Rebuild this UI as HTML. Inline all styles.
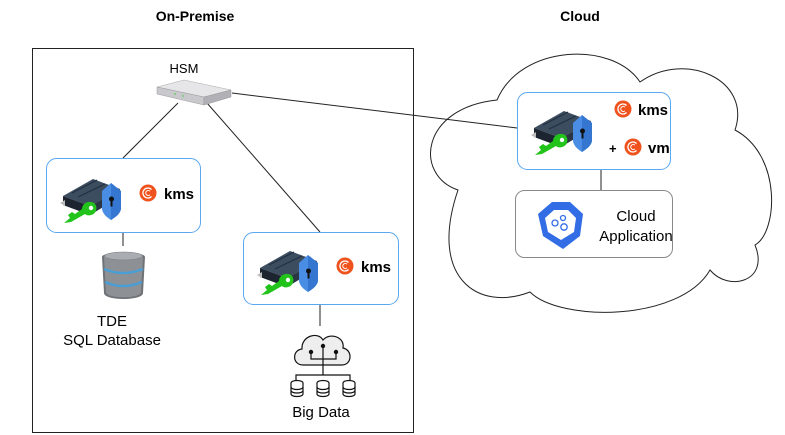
<!DOCTYPE html>
<html><head><style>
body{margin:0;background:#fff;}
svg{display:block;font-family:"Liberation Sans",Arial,sans-serif;}
</style></head><body>
<svg width="785" height="435" viewBox="0 0 785 435" xmlns="http://www.w3.org/2000/svg">
<defs>
<g id="ico">
  <polygon points="0,19 30,2 57,12 27,29" fill="#3d4d60"/>
  <line x1="9" y1="16" x2="34" y2="3" stroke="#22303f" stroke-width="1.2"/>
  <line x1="15" y1="20" x2="42" y2="7" stroke="#22303f" stroke-width="1.2"/>
  <polygon points="0,19 27,29 27,38 0,28" fill="#1c2430"/>
  <polygon points="27,29 57,12 57,20 27,38" fill="#2a3644"/>
  <polygon points="-3,26 2,23 2,29" fill="#bbb"/>
  <path d="M1,46 L7,41 L5,38 L9,35 L12,37 L19,32 C19,26 26,23 31,26 C35,29 34,37 28,38 C25,39 23,38 22,37 L8,45 Z" fill="#22c31a"/>
  <circle cx="28" cy="31" r="2.2" fill="#fff"/>
  <path d="M39,14 L48,6 L58,14 L58,31 C58,37 51,41 48,43 C45,41 39,37 39,31 Z" fill="#4a8de4"/>
  <path d="M48,6 L58,14 L58,31 C58,37 51,41 48,43 Z" fill="#3577d0"/>
  <circle cx="48.5" cy="22" r="2.5" fill="#111"/>
  <rect x="47.5" y="22" width="2" height="7.5" fill="#111"/>
</g>
<g id="logo">
  <circle cx="0" cy="0" r="8.5" fill="#f0521e"/>
  <path d="M3.5,-3.5 A5,5 0 1 0 3.5,3.5" fill="none" stroke="#fff" stroke-width="1.3"/>
  <path d="M2,-1.8 A2.5,2.5 0 1 0 2,1.8" fill="none" stroke="#fff" stroke-width="1"/>
</g>
<g id="cyl">
  <ellipse cx="0" cy="0" rx="6" ry="2.5" fill="#fff" stroke="#111" stroke-width="1.2"/>
  <path d="M-6,0 V11 A6,2.5 0 0 0 6,11 V0" fill="#fff" stroke="#111" stroke-width="1.2"/>
  <path d="M-6,4 A6,2.5 0 0 0 6,4 M-6,7.5 A6,2.5 0 0 0 6,7.5" fill="none" stroke="#111" stroke-width="1.2"/>
</g>
</defs>

<text x="195" y="21" font-size="14" font-weight="bold" text-anchor="middle">On-Premise</text>
<text x="580" y="21" font-size="14" font-weight="bold" text-anchor="middle">Cloud</text>

<rect x="32.5" y="48.5" width="381" height="384" fill="none" stroke="#222" stroke-width="1"/>

<!-- cloud shape -->
<path d="M497,100 C520,45 612,40 640,82 C685,50 752,80 735,130 C782,155 778,232 755,245 C770,282 728,292 710,270 C680,322 560,322 530,292 C478,312 428,278 458,190 C414,175 420,108 497,100 Z" fill="#fff" stroke="#222" stroke-width="1"/>

<!-- connectors -->
<line x1="178" y1="103" x2="123" y2="158" stroke="#222"/>
<line x1="207" y1="103" x2="320" y2="232" stroke="#222"/>
<line x1="232" y1="93" x2="517" y2="128" stroke="#222"/>
<line x1="123" y1="232" x2="123" y2="246" stroke="#222"/>
<line x1="320" y1="304" x2="320" y2="326" stroke="#222"/>
<line x1="601" y1="169" x2="601" y2="190" stroke="#222"/>

<!-- HSM -->
<text x="184" y="73" font-size="13" text-anchor="middle">HSM</text>
<polygon points="157,87 184,80 231,90 204,97" fill="#e6e6e8" stroke="#aaa" stroke-width="0.5"/>
<polygon points="157,87 204,97 204,105 157,94" fill="#c9c9cd" stroke="#999" stroke-width="0.5"/>
<polygon points="204,97 231,90 231,97 204,105" fill="#b0b0b6" stroke="#999" stroke-width="0.5"/>
<circle cx="175" cy="94" r="1.2" fill="#8c8"/><circle cx="183" cy="96" r="1.2" fill="#8c8"/>

<!-- box1 -->
<rect x="46.5" y="158.5" width="154" height="74" rx="10" fill="#fff" stroke="#5aa7f2" stroke-width="1"/>
<use href="#ico" x="63" y="177"/>
<use href="#logo" x="148" y="193"/>
<text x="164" y="199" font-size="15" font-weight="bold">kms</text>

<!-- box2 -->
<rect x="243.5" y="232.5" width="155" height="72" rx="10" fill="#fff" stroke="#5aa7f2" stroke-width="1"/>
<use href="#ico" x="260" y="249"/>
<use href="#logo" x="345" y="266"/>
<text x="361" y="272" font-size="15" font-weight="bold">kms</text>

<!-- cloud box -->
<rect x="517.5" y="92.5" width="153" height="77" rx="10" fill="#fff" stroke="#5aa7f2" stroke-width="1"/>
<use href="#ico" x="534" y="109"/>
<use href="#logo" x="623" y="109"/>
<text x="638" y="115" font-size="15" font-weight="bold">kms</text>
<text x="609" y="153" font-size="13" font-weight="bold">+</text>
<use href="#logo" x="633" y="147"/>
<text x="648" y="153" font-size="15" font-weight="bold">vm</text>

<!-- cloud app -->
<polygon points="552,202 570,202 583,214 580,236 563,249 543,236 538,214" fill="#326de6"/>
<polygon points="554,210 568,210 576,218 574,232 561,240 548,232 545,218" fill="#fff"/>
<g fill="none" stroke="#326de6" stroke-width="1.3">
<circle cx="555" cy="223" r="3"/><circle cx="563" cy="218" r="2.5"/><circle cx="564" cy="227" r="3.2"/>
</g>
<text x="636" y="221" font-size="15" text-anchor="middle">Cloud</text>
<text x="636" y="241" font-size="15" text-anchor="middle">Application</text>
<rect x="515.5" y="190.5" width="157" height="67" rx="9" fill="none" stroke="#888" stroke-width="1"/>

<!-- database -->
<path d="M102,257 C102,251 145,251 145,257 L143,293 C143,301 104,301 104,293 Z" fill="#6f7378"/>
<path d="M104,257 C104,252 143,252 143,257 L141,292 C141,299 106,299 106,292 Z" fill="#8d9196"/>
<ellipse cx="123.5" cy="256" rx="19" ry="4" fill="#a9adb2" stroke="#777" stroke-width="0.5"/>
<path d="M104,269 Q123,277 143,269" fill="none" stroke="#4a9ed6" stroke-width="2.5"/>
<path d="M105,282 Q123,290 142,282" fill="none" stroke="#4a9ed6" stroke-width="2.5"/>
<text x="112" y="326" font-size="15" text-anchor="middle">TDE</text>
<text x="112" y="345" font-size="15" text-anchor="middle">SQL Database</text>

<!-- big data -->
<path d="M303,365 C292,365 292,350 302,349 C301,336 318,331 323,340 C330,332 345,337 343,348 C353,350 352,365 342,365 Z" fill="#eee" stroke="#111" stroke-width="1.2"/>
<g stroke="#111" stroke-width="1.2" fill="none">
<path d="M323,346 V375 M311,353 V359 H336 V353 M296,381 V375 H350 V381"/>
</g>
<circle cx="323" cy="346" r="2.2" fill="#111"/><circle cx="311" cy="352" r="2.2" fill="#111"/><circle cx="336" cy="352" r="2.2" fill="#111"/>
<use href="#cyl" x="297" y="383"/><use href="#cyl" x="323" y="383"/><use href="#cyl" x="349" y="383"/>
<text x="321" y="417" font-size="15" text-anchor="middle">Big Data</text>
</svg>
</body></html>
